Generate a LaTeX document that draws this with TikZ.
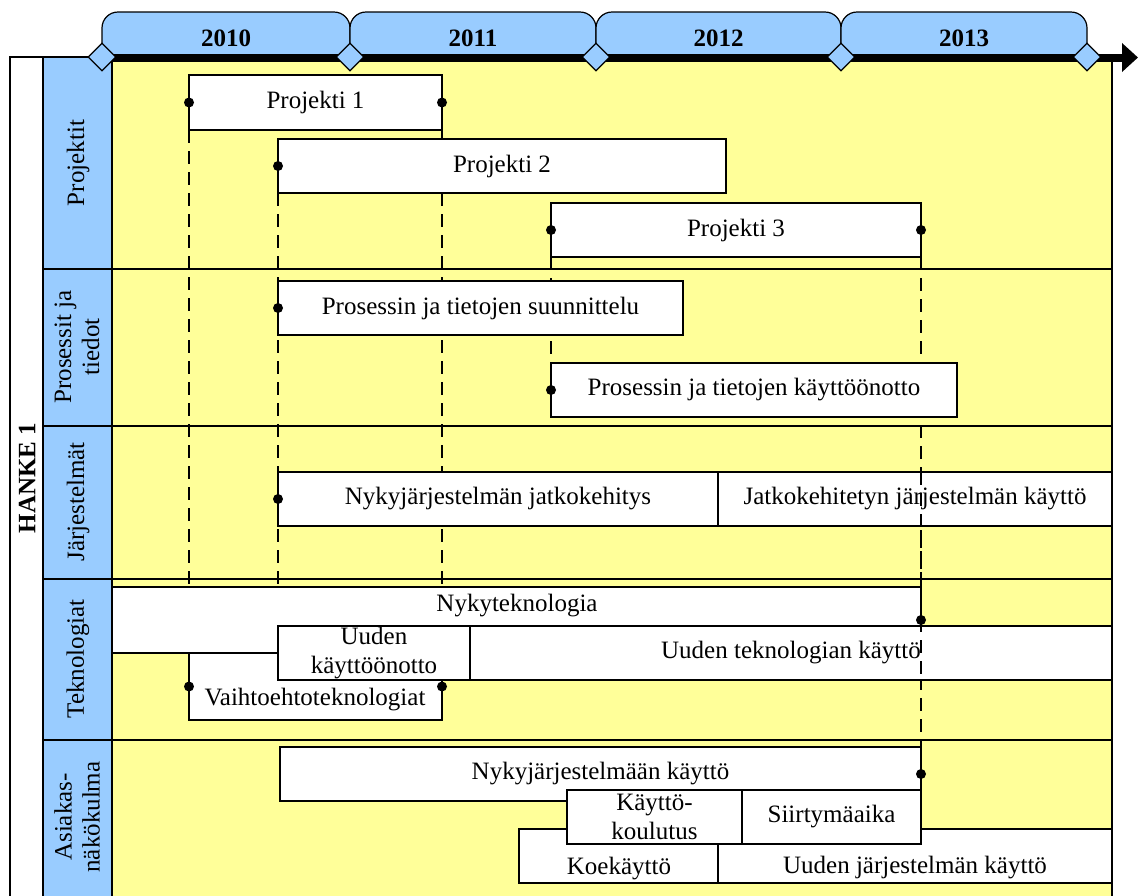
\documentclass[tikz,border=0pt]{standalone}
\usepackage{fontspec}
\setmainfont{Liberation Serif}
\usetikzlibrary{shapes.geometric,arrows.meta}
\definecolor{laneblue}{HTML}{99CCFF}
\definecolor{paneyellow}{HTML}{FFFF99}

\pgfdeclarelayer{back}
\pgfdeclarelayer{guides}
\pgfdeclarelayer{front}
\pgfsetlayers{back,guides,main,front}

% a white task bar given by its corners: name, x1, y1, x2, y2, text
\newcommand\ganttbar[6]{%
  \node[bar, minimum width={#4pt-#2pt}, minimum height={#5pt-#3pt}] (#1) at (#2,#3) {#6};}
% a year tab between two milestones: name, x1, x2, year
\newcommand\yeartab[4]{%
  \draw[tab] (#2,57) -- (#2,12) -- (#3,12) -- (#3,57);
  \node[yearlabel] (#1) at ({(#2+#3)/2},38) {#4};}

\begin{document}
\begin{tikzpicture}[x=1pt,y=-1pt,
  every node/.style={font=\fontsize{25}{29}\selectfont},
  frame/.style={draw=black, line width=1.2pt},
  bar/.style={draw=black, fill=white, line width=1.2pt, inner sep=0pt,
    outer sep=0pt, align=center, anchor=north west},
  tab/.style={draw=black, fill=laneblue, line width=1.2pt, rounded corners=16pt},
  yearlabel/.style={font=\fontsize{25}{29}\selectfont\bfseries, inner sep=0pt},
  milestone/.style={diamond, draw=black, fill=laneblue, line width=1.2pt,
    inner sep=0pt, minimum width=28pt, minimum height=28pt},
  lanelabel/.style={rotate=90, align=center, inner sep=0pt,
    font=\fontsize{25}{28}\selectfont},
  plain/.style={inner sep=0pt, align=center},
  guide/.style={draw=black, line width=1.8pt, dash pattern=on 13pt off 8pt},
  dot/.style={fill=black}
]
\useasboundingbox (0,0) rectangle (1138,895);

\begin{pgfonlayer}{back}
  % outer frame, lane header column and timeline area
  \draw[frame, fill=white] (10,57) rectangle (1112,905);
  \draw[frame, fill=laneblue] (43,57) rectangle (112,905);
  \draw[frame, fill=paneyellow] (112,57) rectangle (1112,905);
  % lane separators
  \foreach \yy in {269,426,579,740}
    \draw[frame] (43,\yy) -- (1112,\yy);
  % year tabs
  \yeartab{y2010}{102}{350}{2010}
  \yeartab{y2011}{350}{596}{2011}
  \yeartab{y2012}{596}{841}{2012}
  \yeartab{y2013}{841}{1087}{2013}
  % time axis
  \coordinate (axisstart) at (102,57.5);
  \coordinate (axisend) at (1138,57.5);
  \draw[line width=8pt, -{Triangle[length=16pt,width=28pt]}] (axisstart) -- (axisend);
  \node[milestone] (m0) at (102,57) {};
  \node[milestone] (m1) at (350,57) {};
  \node[milestone] (m2) at (596,57) {};
  \node[milestone] (m3) at (841,57) {};
  \node[milestone] (m4) at (1087,57) {};
  % lane titles
  \node[lanelabel, font=\fontsize{25}{28}\selectfont\bfseries] (hanke) at (27,478) {HANKE 1};
  \node[lanelabel] (lproj) at (78,163) {Projektit};
  \node[lanelabel] (lpros) at (77,347) {Prosessit ja\\tiedot};
  \node[lanelabel] (ljarj) at (78,502) {Järjestelmät};
  \node[lanelabel] (ltekn) at (78,659) {Teknologiat};
  \node[lanelabel] (lasia) at (77,817) {Asiakas-\\näkökulma};
\end{pgfonlayer}

% Projektit
\ganttbar{p1}{189}{75}{442}{130}{Projekti 1}
\ganttbar{p2}{278}{139}{726}{193}{Projekti 2}
\ganttbar{p3}{551}{203}{921}{257}{Projekti 3}
% Prosessit ja tiedot
\ganttbar{suunn}{278}{281}{683}{335}{Prosessin ja tietojen suunnittelu}
\ganttbar{kayttoon}{551}{363}{957}{417}{Prosessin ja tietojen käyttöönotto}
% Järjestelmät
\ganttbar{jatko}{278}{472}{718}{526}{Nykyjärjestelmän jatkokehitys}
\ganttbar{jatkok}{718}{472}{1112}{526}{Jatkokehitetyn järjestelmän käyttö}
% Teknologiat
\ganttbar{vaihto}{189}{653}{442}{720}{}
\node[plain] (vaihtot) at (315,700) {Vaihtoehtoteknologiat};
\ganttbar{nykytek}{112}{587}{921}{653}{}
\node[plain] (nykytekt) at (517,606) {Nykyteknologia};
\ganttbar{uudenk}{278}{626}{470}{680}{Uuden\\käyttöönotto}
\ganttbar{uudentek}{470}{626}{1112}{680}{Uuden teknologian käyttö}
% Asiakasnäkökulma
\ganttbar{nykyjar}{280}{747}{921}{801}{Nykyjärjestelmään käyttö}
\ganttbar{koe}{519}{829}{718}{883}{}
\node[plain] (koet) at (619,869) {Koekäyttö};
\ganttbar{uudenjar}{718}{829}{1112}{883}{}
\node[plain] (uudenjart) at (915,868) {Uuden järjestelmän käyttö};
\ganttbar{koulutus}{567}{790}{742}{844}{Käyttö-\\koulutus}
\ganttbar{siirtyma}{742}{790}{921}{844}{Siirtymäaika}

% dependency guides between the phases
\begin{pgfonlayer}{guides}
  \draw[guide] (p1.south west) -- (vaihto.west);
  \draw[guide] (p1.south east) -- (vaihto.east);
  \draw[guide] (p2.south west) -- (uudenk.west);
  \draw[guide] (p3.south west) -- (kayttoon.west);
  \draw[guide] (p3.south east) -- (nykyjar.east);
\end{pgfonlayer}

\begin{pgfonlayer}{front}
  \draw[guide] (p3.south east |- jatkok.north) -- (p3.south east |- uudentek.south);
  \fill[dot] (p1.west) circle (5pt);
  \fill[dot] (p1.east) circle (5pt);
  \fill[dot] (p2.west) circle (5pt);
  \fill[dot] (p3.west) circle (5pt);
  \fill[dot] (p3.east) circle (5pt);
  \fill[dot] (suunn.west) circle (5pt);
  \fill[dot] (kayttoon.west) circle (5pt);
  \fill[dot] (jatko.west) circle (5pt);
  \fill[dot] (nykytek.east) circle (5pt);
  \fill[dot] (vaihto.west) circle (5pt);
  \fill[dot] (vaihto.east) circle (5pt);
  \fill[dot] (nykyjar.east) circle (5pt);
\end{pgfonlayer}
\end{tikzpicture}
\end{document}
